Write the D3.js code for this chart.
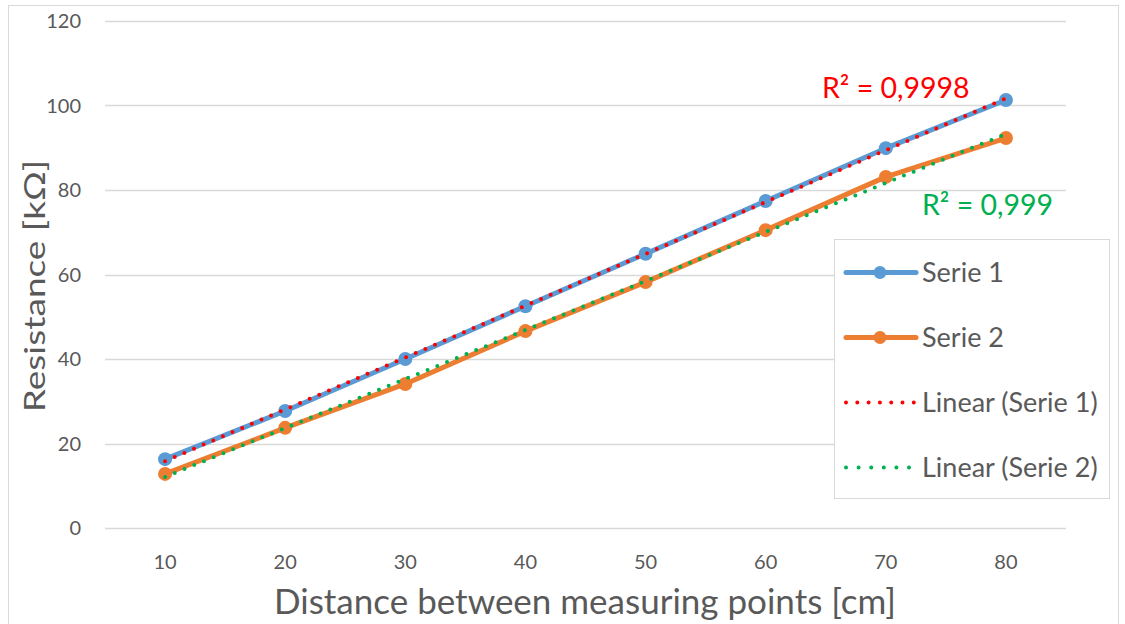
<!DOCTYPE html>
<html>
<head>
<meta charset="utf-8">
<script src="https://cdn.jsdelivr.net/npm/d3@7"></script>
<style>
  body { margin: 0; background: #fff; }
  svg { display: block; font-family: Lato, "Open Sans", sans-serif; }
</style>
</head>
<body>
<div id="chart"></div>
<script>
// data
const distances = [10, 20, 30, 40, 50, 60, 70, 80];
const serie1 = [16.3, 27.7, 40.0, 52.5, 64.9, 77.4, 89.9, 101.3];
const serie2 = [12.8, 23.7, 34.1, 46.6, 58.2, 70.5, 83.1, 92.3];
const yTicks = [0, 20, 40, 60, 80, 100, 120];
const r2Labels = ['R² = 0,9998', 'R² = 0,999'];
const legendLabels = ['Serie 1', 'Serie 2', 'Linear (Serie 1)', 'Linear (Serie 2)'];

const width = 1125, height = 624;
const margin = { top: 21, right: 59, bottom: 96, left: 105 };
const innerW = width - margin.left - margin.right;
const innerH = height - margin.top - margin.bottom;

const blue = '#5B9BD5', orange = '#ED7D31', red = '#FF0000', green = '#00B050';
const textCol = '#595959';

const svg = d3.select('#chart').append('svg')
  .attr('width', width).attr('height', height);

// chart frame
svg.append('rect').attr('x', 8.5).attr('y', 5.5).attr('width', 1110).attr('height', 640)
  .attr('fill', 'none').attr('stroke', '#D9D9D9');

const x = d3.scaleBand().domain(distances).range([0, innerW]);
const y = d3.scaleLinear().domain([0, 120]).range([innerH, 0]);
const cx = (d) => x(d) + x.bandwidth() / 2;

const g = svg.append('g').attr('transform', `translate(${margin.left},${margin.top})`);

// gridlines
g.append('g').selectAll('line').data(yTicks).join('line')
  .attr('x1', 0).attr('x2', innerW)
  .attr('y1', (d) => Math.round(y(d)) + 0.5).attr('y2', (d) => Math.round(y(d)) + 0.5)
  .attr('stroke', '#D9D9D9').attr('stroke-width', 1.3);

// y tick labels
g.append('g').selectAll('text').data(yTicks).join('text')
  .attr('x', -24).attr('y', (d) => y(d)).attr('dy', '0.35em')
  .attr('text-anchor', 'end').attr('fill', textCol).style('font-size', '20px')
  .text((d) => d);

// x tick labels
g.append('g').selectAll('text').data(distances).join('text')
  .attr('x', (d) => cx(d)).attr('y', innerH + 41)
  .attr('text-anchor', 'middle').attr('fill', textCol).style('font-size', '20px')
  .text((d) => d);

// axis titles
svg.append('text').attr('x', 585).attr('y', 614).attr('text-anchor', 'middle')
  .attr('fill', textCol).style('font-size', '35px')
  .text('Distance between measuring points [cm]');
svg.append('text').attr('transform', 'translate(45,286) rotate(-90) scale(1,0.78)').attr('text-anchor', 'middle')
  .attr('fill', textCol).style('font-size', '37px')
  .text('Resistance [kΩ]');

// least squares fit for trendlines
function fit(ys) {
  const xs = distances;
  const mx = d3.mean(xs), my = d3.mean(ys);
  const b = d3.sum(xs, (v, i) => (v - mx) * (ys[i] - my)) / d3.sum(xs, (v) => (v - mx) ** 2);
  return { a: my - b * mx, b };
}

const series = [
  { values: serie1, color: blue, trend: red },
  { values: serie2, color: orange, trend: green },
];

const line = d3.line().x((d) => cx(d[0])).y((d) => y(d[1]));

series.forEach((s) => {
  const pts = distances.map((d, i) => [d, s.values[i]]);
  g.append('path').datum(pts).attr('d', line)
    .attr('fill', 'none').attr('stroke', s.color).attr('stroke-width', 5)
    .attr('stroke-linejoin', 'round');
  g.append('g').selectAll('circle').data(pts).join('circle')
    .attr('cx', (d) => cx(d[0])).attr('cy', (d) => y(d[1])).attr('r', 7)
    .attr('fill', s.color);
});

series.forEach((s) => {
  const f = fit(s.values);
  const ends = [distances[0], distances[distances.length - 1]].map((d) => [d, f.a + f.b * d]);
  g.append('path').datum(ends).attr('d', line)
    .attr('fill', 'none').attr('stroke', s.trend).attr('stroke-width', 4)
    .attr('stroke-linecap', 'round').attr('stroke-dasharray', '0 10.5');
});

// R² labels
svg.append('text').attr('x', 822).attr('y', 98).attr('fill', red).style('font-size', '28.5px').text(r2Labels[0]);
svg.append('text').attr('x', 922).attr('y', 215).attr('fill', green).style('font-size', '28.5px').text(r2Labels[1]);

// legend
const legend = svg.append('g').attr('transform', 'translate(834,239)');
legend.append('rect').attr('x', 0.5).attr('y', 0.5).attr('width', 275).attr('height', 259)
  .attr('fill', '#fff').attr('stroke', '#D9D9D9');
const legendItems = [
  { color: blue, kind: 'series' },
  { color: orange, kind: 'series' },
  { color: red, kind: 'trend', gap: 11.3 },
  { color: green, kind: 'trend', gap: 12.6 },
];
legendItems.forEach((it, i) => {
  const ly = 33.5 + i * 65;
  const row = legend.append('g').attr('transform', `translate(0,${ly})`);
  if (it.kind === 'series') {
    row.append('line').attr('x1', 12).attr('x2', 82).attr('y1', 0).attr('y2', 0)
      .attr('stroke', it.color).attr('stroke-width', 5).attr('stroke-linecap', 'round');
    row.append('circle').attr('cx', 46).attr('cy', 0).attr('r', 6.5).attr('fill', it.color);
  } else {
    row.append('line').attr('x1', 12).attr('x2', 81).attr('y1', 0).attr('y2', 0)
      .attr('stroke', it.color).attr('stroke-width', 4).attr('stroke-linecap', 'round')
      .attr('stroke-dasharray', `0 ${it.gap}`);
  }
  row.append('text').attr('x', 88).attr('y', 0).attr('dy', '0.35em')
    .attr('fill', textCol).style('font-size', '27px').text(legendLabels[i]);
});
</script>
</body>
</html>
